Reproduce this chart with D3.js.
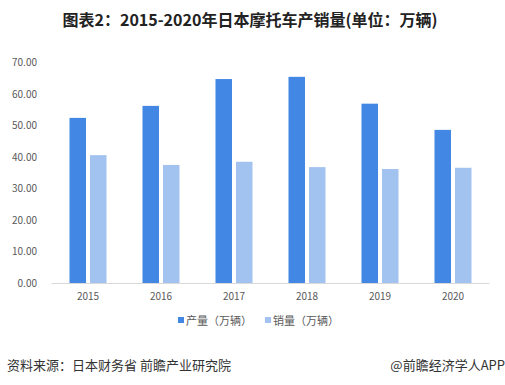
<!DOCTYPE html>
<html>
<head>
<meta charset="utf-8">
<script src="https://d3js.org/d3.v7.min.js"></script>
<style>
  body { margin: 0; background: #fff; }
  text { font-family: "Noto Sans CJK SC", "DejaVu Sans", sans-serif; }
</style>
</head>
<body>
<div id="chart"></div>
<script>
const years = ["2015", "2016", "2017", "2018", "2019", "2020"];
const production = [52.3, 56.1, 64.6, 65.3, 56.8, 48.5];
const sales = [40.5, 37.4, 38.4, 36.7, 36.1, 36.5];
const seriesNames = ["产量（万辆）", "销量（万辆）"];
const colors = ["#4187e3", "#a2c3ef"];
const yTicks = [0, 10, 20, 30, 40, 50, 60, 70];

const width = 505, height = 385;
const svg = d3.select("#chart").append("svg")
    .attr("width", width).attr("height", height);

const x = d3.scaleBand().domain(years).range([51.5, 489.5]);
const y = d3.scaleLinear().domain([0, 70]).range([283, 62]);

// title
svg.append("text")
    .attr("x", 250).attr("y", 26)
    .attr("text-anchor", "middle")
    .style("font-size", "16px").style("font-weight", "bold")
    .attr("fill", "#222")
    .text("图表2：2015-2020年日本摩托车产销量(单位：万辆)");

// y axis labels
svg.append("g").selectAll("text")
    .data(yTicks).enter().append("text")
    .attr("x", 37).attr("y", d => y(d) + 4)
    .attr("text-anchor", "end")
    .style("font-size", "10px")
    .attr("fill", "#595959")
    .text(d => d.toFixed(2));

// bars
const bw = 16.5, gap = 4;
const groups = svg.append("g").selectAll("g")
    .data(years).enter().append("g");
groups.append("rect")
    .attr("x", d => x(d) + x.bandwidth() / 2 - gap / 2 - bw)
    .attr("y", (d, i) => y(production[i]))
    .attr("width", bw)
    .attr("height", (d, i) => y(0) - y(production[i]))
    .attr("fill", colors[0]);
groups.append("rect")
    .attr("x", d => x(d) + x.bandwidth() / 2 + gap / 2)
    .attr("y", (d, i) => y(sales[i]))
    .attr("width", bw)
    .attr("height", (d, i) => y(0) - y(sales[i]))
    .attr("fill", colors[1]);

// x axis
svg.append("line")
    .attr("x1", 51.5).attr("x2", 489.5)
    .attr("y1", 283.5).attr("y2", 283.5)
    .attr("stroke", "#d9d9d9");
svg.append("g").selectAll("text")
    .data(years).enter().append("text")
    .attr("x", d => x(d) + x.bandwidth() / 2)
    .attr("y", 300)
    .attr("text-anchor", "middle")
    .style("font-size", "10px")
    .attr("fill", "#595959")
    .text(d => d);

// legend
const lx = [178, 265];
seriesNames.forEach((n, i) => {
  svg.append("rect")
      .attr("x", lx[i]).attr("y", 317)
      .attr("width", 6).attr("height", 6)
      .attr("fill", colors[i]);
  svg.append("text")
      .attr("x", lx[i] + 8).attr("y", 325)
      .style("font-size", "11px")
      .attr("fill", "#595959")
      .text(n);
});

// footer
svg.append("text")
    .attr("x", 7).attr("y", 370)
    .style("font-size", "13px")
    .attr("fill", "#333")
    .text("资料来源：日本财务省 前瞻产业研究院");
svg.append("text")
    .attr("x", 505).attr("y", 370)
    .attr("text-anchor", "end")
    .style("font-size", "13px")
    .attr("fill", "#333")
    .text("@前瞻经济学人APP");
</script>
</body>
</html>
